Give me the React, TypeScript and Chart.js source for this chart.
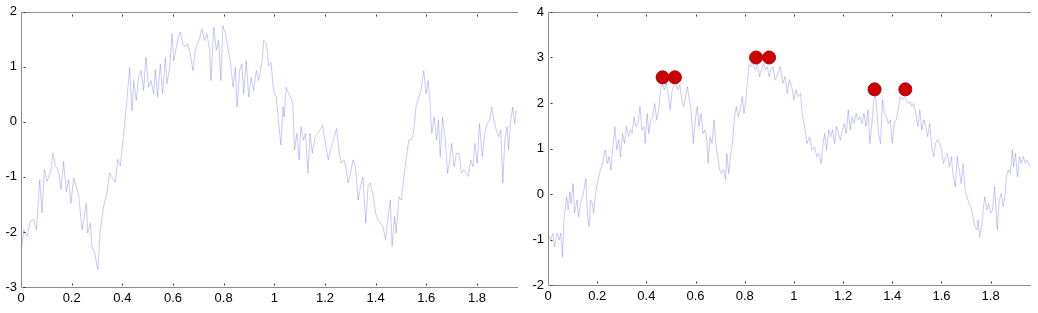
import React, { useEffect, useRef } from "react";
import { Chart, registerables } from "chart.js";
Chart.register(...registerables);

const X_MAX = 1.962;
const xTickValues = [0, 0.2, 0.4, 0.6, 0.8, 1, 1.2, 1.4, 1.6, 1.8];
const xTickLabels = ["0", "0.2", "0.4", "0.6", "0.8", "1", "1.2", "1.4", "1.6", "1.8"];
const leftYTicks = [-3, -2, -1, 0, 1, 2];
const rightYTicks = [-2, -1, 0, 1, 2, 3, 4];

const leftT = [
  0, 0.011, 0.024, 0.037, 0.05, 0.061, 0.074, 0.083, 0.092, 0.103, 0.116, 0.126, 0.136, 0.149, 0.158, 0.168, 0.179, 0.188, 0.197, 0.208,
  0.218, 0.228, 0.241, 0.25, 0.258, 0.263, 0.274, 0.28, 0.291, 0.303, 0.313, 0.326, 0.339, 0.35, 0.359, 0.372, 0.382, 0.392, 0.399, 0.408,
  0.418, 0.429, 0.438, 0.445, 0.455, 0.464, 0.474, 0.484, 0.493, 0.504, 0.513, 0.524, 0.53, 0.539, 0.55, 0.559, 0.57, 0.576, 0.587, 0.596,
  0.603, 0.613, 0.622, 0.629, 0.639, 0.649, 0.658, 0.668, 0.679, 0.688, 0.697, 0.705, 0.714, 0.724, 0.734, 0.745, 0.75, 0.761, 0.771, 0.78,
  0.789, 0.797, 0.807, 0.816, 0.826, 0.837, 0.846, 0.853, 0.863, 0.872, 0.879, 0.889, 0.899, 0.908, 0.918, 0.929, 0.938, 0.947, 0.952, 0.958,
  0.969, 0.978, 0.987, 0.997, 1.008, 1.017, 1.026, 1.034, 1.039, 1.047, 1.056, 1.065, 1.073, 1.08, 1.089, 1.098, 1.105, 1.115, 1.123, 1.133,
  1.141, 1.15, 1.161, 1.17, 1.18, 1.191, 1.2, 1.213, 1.222, 1.233, 1.246, 1.256, 1.265, 1.275, 1.282, 1.291, 1.301, 1.311, 1.32, 1.331,
  1.34, 1.35, 1.361, 1.37, 1.378, 1.389, 1.4, 1.409, 1.418, 1.429, 1.439, 1.448, 1.458, 1.465, 1.475, 1.481, 1.492, 1.501, 1.51, 1.52,
  1.531, 1.54, 1.549, 1.559, 1.57, 1.579, 1.59, 1.599, 1.607, 1.614, 1.622, 1.631, 1.641, 1.648, 1.655, 1.664, 1.675, 1.684, 1.693, 1.7,
  1.71, 1.719, 1.729, 1.739, 1.749, 1.758, 1.766, 1.775, 1.784, 1.792, 1.801, 1.81, 1.821, 1.831, 1.84, 1.85, 1.858, 1.867, 1.876, 1.886,
  1.894, 1.902, 1.91, 1.919, 1.925, 1.932, 1.941, 1.949, 1.954,
];
const leftV = [
  -2.38, -1.96, -2.08, -1.8, -1.78, -1.96, -1.05, -1.65, -0.87, -1.08, -0.93, -0.57, -0.8, -0.9, -1.23, -0.72, -1.27, -1.05, -1.48, -1.02,
  -1.17, -1.35, -1.96, -1.72, -1.48, -2.02, -1.84, -2.26, -2.38, -2.68, -1.96, -1.54, -1.3, -0.93, -1.0, -1.1, -0.68, -0.8, -0.5, -0.09,
  0.39, 0.99, 0.2, 0.75, 0.39, 0.81, 0.93, 0.57, 1.17, 0.63, 0.75, 0.51, 0.96, 0.45, 1.05, 0.51, 1.17, 0.69, 0.99, 1.6,
  1.11, 1.36, 1.54, 1.63, 1.42, 1.36, 1.42, 1.24, 0.93, 1.3, 1.42, 1.51, 1.69, 1.48, 1.6, 1.3, 0.75, 1.72, 1.3, 1.48,
  0.75, 1.75, 1.6, 1.36, 1.11, 0.63, 0.99, 0.27, 0.93, 1.05, 0.51, 1.11, 0.45, 0.81, 0.57, 0.93, 0.75, 0.99, 1.11, 1.48,
  1.42, 1.02, 1.08, 0.57, 0.45, -0.03, -0.42, 0.27, 0.09, 0.63, 0.51, 0.45, 0.33, -0.51, -0.21, -0.69, -0.09, -0.33, -0.21, -0.93,
  -0.21, -0.57, -0.27, -0.21, -0.15, -0.06, -0.33, -0.69, -0.51, -0.33, -0.12, -0.57, -0.75, -0.69, -0.81, -1.11, -0.93, -0.69, -0.81, -1.42,
  -1.18, -1.0, -1.84, -1.18, -1.11, -1.3, -1.66, -1.78, -1.84, -1.9, -2.14, -1.78, -1.42, -2.26, -1.72, -2.02, -1.36, -1.42, -1.06, -0.69,
  -0.33, -0.33, -0.21, 0.27, 0.45, 0.57, 0.93, 0.51, 0.75, 0.39, -0.21, 0.09, -0.33, 0.03, -0.63, 0.09, -0.33, -0.93, -0.69, -0.39,
  -0.81, -0.57, -0.57, -0.93, -0.87, -0.93, -0.99, -0.69, -0.81, -0.39, -0.75, -0.03, -0.63, -0.21, -0.03, 0.03, 0.27, 0.03, -0.15, -0.27,
  -0.15, -1.11, -0.33, -0.09, -0.51, -0.03, 0.27, -0.03, 0.21,
];

const rightT = [
  0, 0.01, 0.02, 0.026, 0.037, 0.046, 0.052, 0.059, 0.065, 0.076, 0.082, 0.089, 0.094, 0.102, 0.108, 0.118, 0.124, 0.133, 0.144, 0.154,
  0.161, 0.167, 0.173, 0.18, 0.186, 0.193, 0.2, 0.209, 0.217, 0.225, 0.233, 0.241, 0.248, 0.256, 0.264, 0.272, 0.28, 0.288, 0.295, 0.303,
  0.311, 0.319, 0.327, 0.335, 0.342, 0.35, 0.358, 0.366, 0.374, 0.382, 0.39, 0.395, 0.403, 0.41, 0.418, 0.426, 0.434, 0.442, 0.45, 0.458,
  0.465, 0.473, 0.481, 0.49, 0.497, 0.505, 0.512, 0.52, 0.528, 0.536, 0.544, 0.552, 0.559, 0.567, 0.575, 0.583, 0.591, 0.599, 0.607, 0.614,
  0.622, 0.63, 0.638, 0.646, 0.651, 0.659, 0.667, 0.675, 0.682, 0.69, 0.698, 0.706, 0.714, 0.722, 0.727, 0.735, 0.743, 0.75, 0.758, 0.766,
  0.774, 0.782, 0.79, 0.797, 0.805, 0.81, 0.817, 0.824, 0.83, 0.837, 0.844, 0.852, 0.86, 0.868, 0.876, 0.884, 0.892, 0.899, 0.907, 0.915,
  0.923, 0.931, 0.944, 0.955, 0.964, 0.973, 0.981, 0.991, 1.0, 1.008, 1.017, 1.027, 1.035, 1.044, 1.053, 1.064, 1.073, 1.084, 1.093, 1.101,
  1.111, 1.117, 1.125, 1.133, 1.141, 1.149, 1.157, 1.165, 1.173, 1.181, 1.189, 1.197, 1.205, 1.213, 1.221, 1.229, 1.237, 1.245, 1.253, 1.261,
  1.269, 1.277, 1.285, 1.293, 1.301, 1.309, 1.317, 1.325, 1.331, 1.337, 1.344, 1.352, 1.36, 1.368, 1.376, 1.384, 1.392, 1.4, 1.408, 1.416,
  1.424, 1.432, 1.44, 1.448, 1.456, 1.464, 1.472, 1.48, 1.488, 1.496, 1.504, 1.512, 1.52, 1.528, 1.536, 1.544, 1.552, 1.56, 1.568, 1.576,
  1.584, 1.592, 1.6, 1.608, 1.616, 1.624, 1.632, 1.64, 1.648, 1.656, 1.664, 1.672, 1.68, 1.688, 1.696, 1.704, 1.712, 1.72, 1.728, 1.736,
  1.744, 1.749, 1.755, 1.763, 1.771, 1.776, 1.784, 1.792, 1.8, 1.808, 1.816, 1.821, 1.827, 1.835, 1.843, 1.851, 1.859, 1.864, 1.872, 1.88,
  1.888, 1.893, 1.901, 1.909, 1.917, 1.925, 1.933, 1.941, 1.949, 1.96,
];
const rightV = [
  -0.86, -1.01, -0.86, -1.16, -0.86, -1.01, -0.86, -1.38, -0.57, -0.06, -0.35, 0.05, -0.21, 0.23, -0.42, -0.13, -0.5, -0.21, 0.01, 0.34,
  -0.5, -0.72, -0.13, -0.21, -0.42, 0.01, 0.23, 0.45, 0.6, 0.75, 0.97, 0.67, 0.82, 0.53, 1.04, 1.48, 0.97, 1.19, 0.82, 1.33,
  1.11, 1.48, 1.26, 1.41, 1.33, 1.7, 1.48, 1.55, 1.92, 1.41, 1.48, 1.11, 1.77, 1.33, 1.63, 1.7, 1.99, 1.63, 1.85, 2.29,
  2.43, 2.29, 2.43, 2.14, 1.85, 2.29, 2.4, 2.43, 2.29, 2.4, 2.07, 1.92, 2.14, 2.36, 2.07, 1.77, 1.11, 1.63, 1.92, 1.48,
  1.77, 1.33, 1.41, 1.19, 0.67, 1.26, 1.11, 1.63, 1.11, 0.82, 0.53, 0.45, 0.53, 0.31, 0.89, 0.45, 0.89, 1.11, 1.7, 1.92,
  1.7, 1.85, 2.14, 1.77, 2.07, 2.43, 2.84, 2.8, 2.91, 2.8, 2.73, 2.87, 2.58, 2.73, 2.87, 2.73, 2.8, 2.58, 2.73, 2.8,
  2.51, 2.58, 2.8, 2.43, 2.58, 2.21, 2.51, 2.36, 2.07, 2.29, 2.14, 2.21, 1.7, 1.48, 1.11, 1.26, 0.97, 1.04, 0.82, 0.89,
  0.67, 1.04, 1.33, 0.97, 1.41, 1.26, 1.41, 1.11, 1.48, 1.33, 1.19, 1.41, 1.55, 1.33, 1.85, 1.41, 1.7, 1.55, 1.77, 1.63,
  1.7, 1.55, 1.77, 1.48, 1.85, 1.11, 1.55, 2.07, 2.21, 1.85, 1.33, 1.11, 2.07, 1.77, 1.7, 1.55, 1.63, 1.11, 1.55, 1.63,
  1.85, 2.14, 2.07, 2.14, 2.07, 1.99, 2.03, 1.92, 1.99, 1.77, 1.48, 1.85, 1.41, 1.63, 1.48, 1.26, 1.55, 1.04, 0.82, 1.11,
  1.19, 1.11, 0.97, 0.67, 0.82, 0.89, 0.6, 0.82, 0.38, 0.16, 0.82, 0.53, 0.23, 0.67, 0.09, -0.06, -0.21, -0.28, -0.5, -0.72,
  -0.79, -0.57, -0.94, -0.72, -0.28, -0.06, -0.35, -0.21, -0.42, -0.35, 0.16, -0.28, -0.79, -0.13, 0.01, -0.28, 0.01, 0.38, 0.53, 0.45,
  0.97, 0.6, 0.89, 0.38, 0.82, 0.67, 0.82, 0.67, 0.75, 0.6,
];

const peakT = [0.466, 0.516, 0.846, 0.899, 1.328, 1.453];
const peakV = [2.565, 2.565, 3.0, 3.0, 2.3, 2.3];

const LINE_COLOR = "rgba(70,70,235,0.42)";
const FONT = { family: "'Liberation Sans', Arial, sans-serif", size: 13 };

const framePlugin = {
  id: "matlabFrame",
  afterDraw(chart: any) {
    const { ctx, chartArea: a, scales } = chart;
    const L = Math.round(a.left) + 0.5;
    const R = Math.round(a.right);
    const T = Math.round(a.top) + 0.5;
    const B = Math.round(a.bottom) + 0.5;
    ctx.save();
    ctx.strokeStyle = "#8c8c8c";
    ctx.lineWidth = 1;
    ctx.beginPath();
    ctx.moveTo(L, T);
    ctx.lineTo(R, T);
    ctx.moveTo(L, T);
    ctx.lineTo(L, B);
    ctx.moveTo(L, B);
    ctx.lineTo(R, B);
    ctx.stroke();
    ctx.strokeStyle = "#333";
    ctx.beginPath();
    for (const v of xTickValues) {
      if (v === 0) continue;
      const px = Math.round(scales.x.getPixelForValue(v)) + 0.5;
      ctx.moveTo(px, T + 2);
      ctx.lineTo(px, T + 4);
      ctx.moveTo(px, B - 4);
      ctx.lineTo(px, B - 2);
    }
    for (const t of scales.y.ticks) {
      const py = Math.round(scales.y.getPixelForValue(t.value)) + 0.5;
      ctx.moveTo(L + 2, py);
      ctx.lineTo(L + 4, py);
    }
    ctx.stroke();
    ctx.restore();
  },
};

function makeConfig(
  xs: number[],
  ys: number[],
  yTicks: number[],
  yAxisWidth: number,
  xAxisHeight: number,
  topPad: number,
  withPeaks: boolean
) {
  const datasets: any[] = [
    {
      data: xs.map((x, i) => ({ x, y: ys[i] })),
      borderColor: LINE_COLOR,
      borderWidth: 0.7,
      pointRadius: 0,
      tension: 0,
      order: 2,
    },
  ];
  if (withPeaks) {
    datasets.push({
      data: peakT.map((x, i) => ({ x, y: peakV[i] })),
      showLine: false,
      pointRadius: 6.5,
      pointBackgroundColor: "#cc0000",
      pointBorderColor: "#b00000",
      pointBorderWidth: 1,
      order: 1,
    });
  }
  return {
    type: "line",
    data: { datasets },
    options: {
      responsive: false,
      animation: false,
      devicePixelRatio: 1,
      layout: { padding: { top: topPad, right: 0, left: 0, bottom: 0 } },
      plugins: { legend: { display: false }, tooltip: { enabled: false } },
      scales: {
        x: {
          type: "linear",
          min: 0,
          max: X_MAX,
          grid: { display: false, drawTicks: false },
          border: { display: false },
          afterBuildTicks: (s: any) => {
            s.ticks = xTickValues.map((v) => ({ value: v }));
          },
          afterFit: (s: any) => {
            s.height = xAxisHeight;
          },
          ticks: {
            color: "#000",
            font: FONT,
            padding: 4,
            maxRotation: 0,
            autoSkip: false,
            callback: (v: number) => {
              const i = xTickValues.findIndex((t) => Math.abs(t - v) < 1e-6);
              return i >= 0 ? xTickLabels[i] : "";
            },
          },
        },
        y: {
          type: "linear",
          min: yTicks[0],
          max: yTicks[yTicks.length - 1],
          grid: { display: false, drawTicks: false },
          border: { display: false },
          afterBuildTicks: (s: any) => {
            s.ticks = yTicks.map((v) => ({ value: v }));
          },
          afterFit: (s: any) => {
            s.width = yAxisWidth;
          },
          ticks: {
            color: "#000",
            font: FONT,
            padding: 4,
            autoSkip: false,
            callback: (v: number) => String(v),
          },
        },
      },
    },
    plugins: [framePlugin],
  } as any;
}

export default function App() {
  const leftRef = useRef<HTMLCanvasElement>(null);
  const rightRef = useRef<HTMLCanvasElement>(null);
  useEffect(() => {
    const c1 = new Chart(leftRef.current!, makeConfig(leftT, leftV, leftYTicks, 21, 26, 11, false));
    const c2 = new Chart(rightRef.current!, makeConfig(rightT, rightV, rightYTicks, 28, 28, 12, true));
    return () => {
      c1.destroy();
      c2.destroy();
    };
  }, []);
  return (
    <div style={{ position: "absolute", left: 0, top: 0, width: 1038, height: 313, background: "#fff" }}>
      <canvas ref={leftRef} width={518} height={313} style={{ position: "absolute", left: 0, top: 0, width: 518, height: 313 }} />
      <canvas ref={rightRef} width={518} height={313} style={{ position: "absolute", left: 520, top: 0, width: 518, height: 313 }} />
    </div>
  );
}
